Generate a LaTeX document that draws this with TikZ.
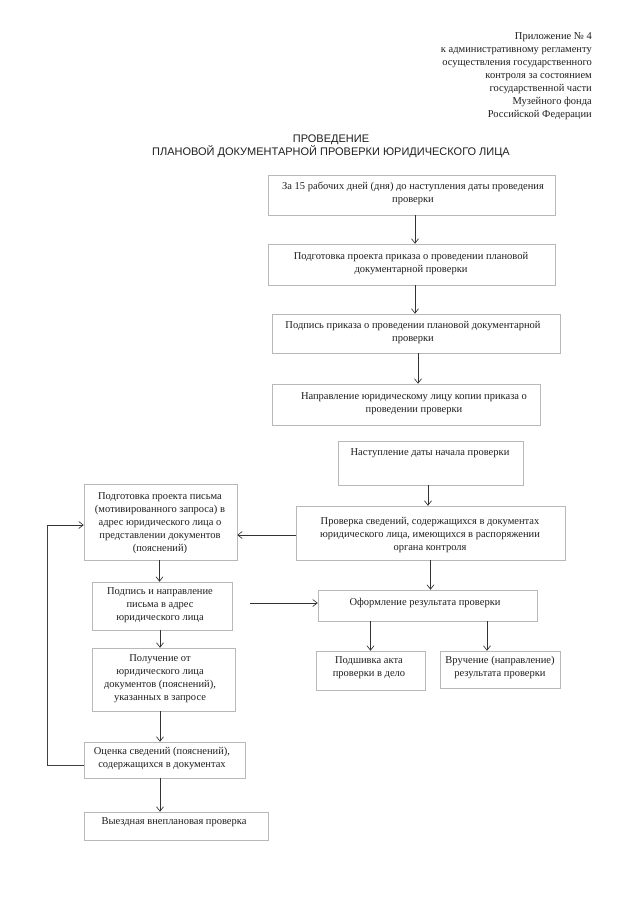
\documentclass[tikz,border=0pt]{standalone}
\usepackage{fontspec}
\setmainfont{Liberation Serif}
\newfontfamily\titlefont{Liberation Sans}
\usetikzlibrary{arrows.meta}
\begin{document}
\begin{tikzpicture}[x=1pt,y=-1pt,
  frm/.style={draw=black!28, line width=0.5pt, inner sep=0pt},
  txt/.style={align=center, inner sep=0pt, text=black!88, font=\fontsize{10.5}{13}\selectfont},
  arr/.style={draw=black!80, line width=0.65pt, -{Straight Barb[length=4.5pt,width=7pt]}},
  lnk/.style={draw=black!75, line width=0.6pt}]
\useasboundingbox[fill=white] (0,0) rectangle (640,905);

% header
\node[txt, align=right, anchor=north east] (hdr) at (592,32)
 {Приложение № 4\\к административному регламенту\\осуществления государственного\\контроля за состоянием\\государственной части\\Музейного фонда\\Российской Федерации};

% title
\node[txt, font=\titlefont\fontsize{11}{13}\selectfont] (title) at (331,146.5)
 {ПРОВЕДЕНИЕ\\ПЛАНОВОЙ ДОКУМЕНТАРНОЙ ПРОВЕРКИ ЮРИДИЧЕСКОГО ЛИЦА};

% frames
\node[frm, minimum width=287pt, minimum height=40pt] (b1) at (411.5,195) {};
\node[frm, minimum width=287pt, minimum height=41pt] (b2) at (411.5,264.5) {};
\node[frm, minimum width=288pt, minimum height=39pt] (b3) at (416,333.5) {};
\node[frm, minimum width=268pt, minimum height=41pt] (b4) at (406,404.5) {};
\node[frm, minimum width=185pt, minimum height=44pt] (b5) at (430.5,463) {};
\node[frm, minimum width=269pt, minimum height=54pt] (b6) at (430.5,533) {};
\node[frm, minimum width=219pt, minimum height=31pt] (b7) at (427.5,605.5) {};
\node[frm, minimum width=109pt, minimum height=39pt] (b8) at (370.5,670.5) {};
\node[frm, minimum width=120pt, minimum height=37pt] (b9) at (500,669.5) {};
\node[frm, minimum width=153pt, minimum height=76pt] (bA) at (160.5,522) {};
\node[frm, minimum width=140pt, minimum height=48pt] (bB) at (162,606) {};
\node[frm, minimum width=143pt, minimum height=63pt] (bF) at (163.5,679.5) {};
\node[frm, minimum width=161pt, minimum height=36pt] (bG) at (164.5,760) {};
\node[frm, minimum width=184pt, minimum height=28pt] (bH) at (176,826) {};

% texts
\node[txt] (t1) at (413,193.5) {За 15 рабочих дней (дня) до наступления даты проведения\\проверки};
\node[txt] (t2) at (411,263.5) {Подготовка проекта приказа о проведении плановой\\документарной проверки};
\node[txt] (t3) at (413,332.5) {Подпись приказа о проведении плановой документарной\\проверки};
\node[txt] (t4) at (414,403.5) {Направление юридическому лицу копии приказа о\\проведении проверки};
\node[txt] (t5) at (430,453) {Наступление даты начала проверки};
\node[txt] (t6) at (430,535) {Проверка сведений, содержащихся в документах\\юридического лица, имеющихся в распоряжении\\органа контроля};
\node[txt] (t7) at (425,603) {Оформление результата проверки};
\node[txt] (t8) at (369,667.5) {Подшивка акта\\проверки в дело};
\node[txt] (t9) at (500,667.5) {Вручение (направление)\\результата проверки};
\node[txt] (tA) at (160,523) {Подготовка проекта письма\\(мотивированного запроса) в\\адрес юридического лица о\\представлении документов\\(пояснений)};
\node[txt] (tB) at (160,605) {Подпись и направление\\письма в адрес\\юридического лица};
\node[txt] (tF) at (160,678.5) {Получение от\\юридического лица\\документов (пояснений),\\указанных в запросе};
\node[txt] (tG) at (162,758.5) {Оценка сведений (пояснений),\\содержащихся в документах};
\node[txt] (tH) at (174,822) {Выездная внеплановая проверка};

% connectors
\draw[arr] ([xshift=3.5pt]b1.south) -- ([xshift=3.5pt]b2.north);
\draw[arr] ([xshift=3.5pt]b2.south) -- ([xshift=3.5pt]b2.south |- b3.north);
\draw[arr] ([xshift=2pt]b3.south) -- ([xshift=2pt]b3.south |- b4.north);
\draw[arr] ([xshift=-2.5pt]b5.south) -- ([xshift=-2.5pt]b6.north);
\draw[arr] (b6.west |- 0,535) -- (bA.east |- 0,535);
\draw[arr] (b6.south) -- (b6.south |- b7.north);
\draw[arr] ([xshift=-1pt]bA.south) -- ([xshift=-1pt]bA.south |- bB.north);
\draw[arr] ([xshift=18pt]bB.east |- t7) -- (b7.west |- t7);
\draw[arr] (b8.north |- b7.south) -- (b8.north);
\draw[arr] ([xshift=-13pt]b9.north |- b7.south) -- ([xshift=-13pt]b9.north);
\draw[arr] ([xshift=-2pt]bB.south) -- ([xshift=-2pt]bB.south |- bF.north);
\draw[arr] ([xshift=-3.5pt]bF.south) -- ([xshift=-3.5pt]bF.south |- bG.north);
\draw[arr] ([xshift=-4.5pt]bG.south) -- ([xshift=-4.5pt]bG.south |- bH.north);
\coordinate (lpb) at (47,765);
\coordinate (lpt) at (47,525);
\draw[lnk] (bG.west |- lpb) -- (lpb) -- (lpt);
\draw[arr] (lpt) -- (bA.west |- lpt);
\end{tikzpicture}
\end{document}
